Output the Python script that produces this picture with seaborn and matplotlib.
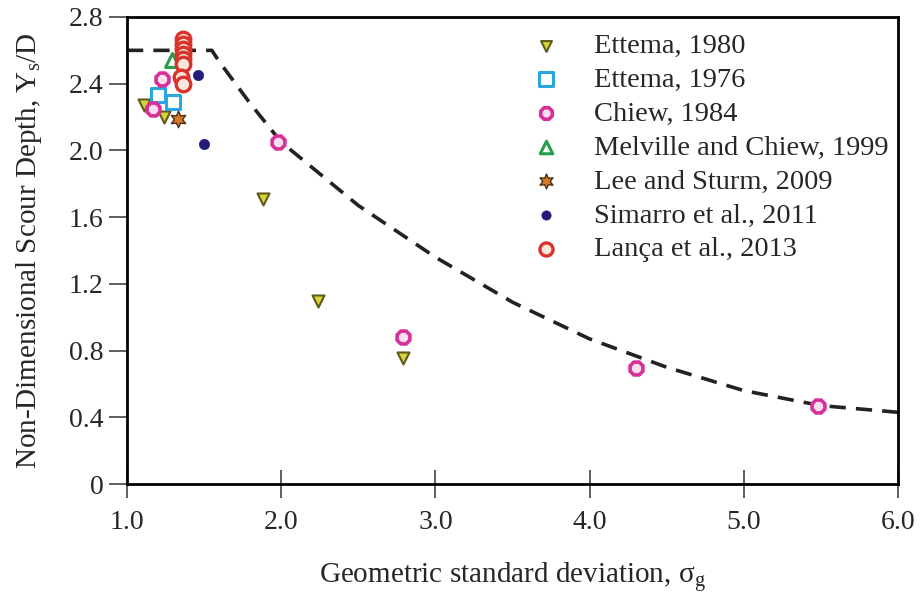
import matplotlib
matplotlib.use("Agg")
import matplotlib.pyplot as plt
import seaborn as sns
import pandas as pd

# ---- data ----
ettema1980_x = [1.11, 1.24, 1.88, 2.24, 2.79]
ettema1980_y = [2.27, 2.20, 1.71, 1.10, 0.755]

ettema1976_x = [1.20, 1.30]
ettema1976_y = [2.33, 2.29]

chiew1984_x = [1.17, 1.23, 1.98, 2.79, 4.30, 5.48]
chiew1984_y = [2.25, 2.43, 2.05, 0.88, 0.695, 0.47]

melville_x = [1.29]
melville_y = [2.54]

lee_x = [1.33]
lee_y = [2.19]

simarro_x = [1.46, 1.50]
simarro_y = [2.45, 2.04]

lanca_x = [1.36, 1.36, 1.36, 1.36, 1.36, 1.36, 1.35, 1.36]
lanca_y = [2.67, 2.64, 2.61, 2.58, 2.55, 2.52, 2.44, 2.40]

curve_x = [1.0, 1.55, 1.6, 1.8, 2.0, 2.5, 3.0, 3.5, 4.0, 4.5, 5.0, 5.5, 6.0]
curve_y = [2.6, 2.6, 2.53, 2.28, 2.05, 1.67, 1.36, 1.09, 0.87, 0.70, 0.56, 0.47, 0.43]

xticks = [1.0, 2.0, 3.0, 4.0, 5.0, 6.0]
xtick_labels = ["1.0", "2.0", "3.0", "4.0", "5.0", "6.0"]
yticks = [0, 0.4, 0.8, 1.2, 1.6, 2.0, 2.4, 2.8]
ytick_labels = ["0", "0.4", "0.8", "1.2", "1.6", "2.0", "2.4", "2.8"]

sns.set_theme(style="white")
plt.rcParams["font.family"] = ["Liberation Serif", "DejaVu Serif"]
plt.rcParams["mathtext.fontset"] = "custom"
plt.rcParams["mathtext.rm"] = "Liberation Serif"
plt.rcParams["mathtext.it"] = "Liberation Serif"

fig = plt.figure(figsize=(9.23, 5.94), dpi=100)
ax = fig.add_axes([127 / 923, 1 - 484 / 594, (898 - 127) / 923, (484 - 17) / 594])

sns.lineplot(x=curve_x, y=curve_y, ax=ax, color="#222222", linewidth=2.6,
             dashes=False, zorder=1)
ax.lines[-1].set_dashes((4.5, 2.8))

series = [
    ("Ettema, 1980", ettema1980_x, ettema1980_y,
     dict(marker="v", s=75, color="#d6d43a", edgecolor="#5e5a1c", linewidth=1.5)),
    ("Ettema, 1976", ettema1976_x, ettema1976_y,
     dict(marker="s", s=110, color="white", edgecolor="#2aa6e0", linewidth=2.2)),
    ("Chiew, 1984", chiew1984_x, chiew1984_y,
     dict(marker="8", s=100, color="#fae0ee", edgecolor="#d8309a", linewidth=2.6)),
    ("Melville and Chiew, 1999", melville_x, melville_y,
     dict(marker="^", s=100, color="white", edgecolor="#26a048", linewidth=2.2)),
    ("Lee and Sturm, 2009", lee_x, lee_y,
     dict(marker=(6, 1, 0), s=140, color="#d77a28", edgecolor="#4a3010", linewidth=1.0)),
    ("Simarro et al., 2011", simarro_x, simarro_y,
     dict(marker="o", s=55, color="#231c7a", edgecolor="#231c7a", linewidth=0.5)),
    ("Lança et al., 2013", lanca_x, lanca_y,
     dict(marker="o", s=110, color="#fbe6dc", edgecolor="#d8342c", linewidth=2.4)),
]

for label, xs, ys, kw in series:
    df = pd.DataFrame({"x": xs, "y": ys})
    sns.scatterplot(data=df, x="x", y="y", ax=ax, label=label, zorder=3, **kw)

ax.set_xlim(1.0, 6.0)
ax.set_ylim(0, 2.8)
ax.set_xticks(xticks)
ax.set_xticklabels(xtick_labels)
ax.set_yticks(yticks)
ax.set_yticklabels(ytick_labels)

for sp in ax.spines.values():
    sp.set_visible(True)
    sp.set_color("black")
    sp.set_linewidth(2.0)

ax.tick_params(axis="y", direction="out", length=13, width=1.2, color="#444444",
               labelsize=20, pad=4, left=True)
ax.tick_params(axis="x", direction="inout", length=20, width=1.2, color="#444444",
               labelsize=20, pad=9, bottom=True)

ax.set_xlabel(r"Geometric standard deviation, $\mathrm{\sigma_g}$", fontsize=21)
ax.xaxis.set_label_coords(0.5, -0.163)
ax.set_ylabel(r"Non-Dimensional Scour Depth, $\mathrm{Y_s}$/D", fontsize=21, labelpad=18)

leg = ax.legend(loc="upper left", bbox_to_anchor=(0.492, 0.99), frameon=False,
                fontsize=20.5, handletextpad=0.68, labelspacing=0.28, borderaxespad=0,
                markerscale=0.9)

fig.savefig("out.png", dpi=100)
